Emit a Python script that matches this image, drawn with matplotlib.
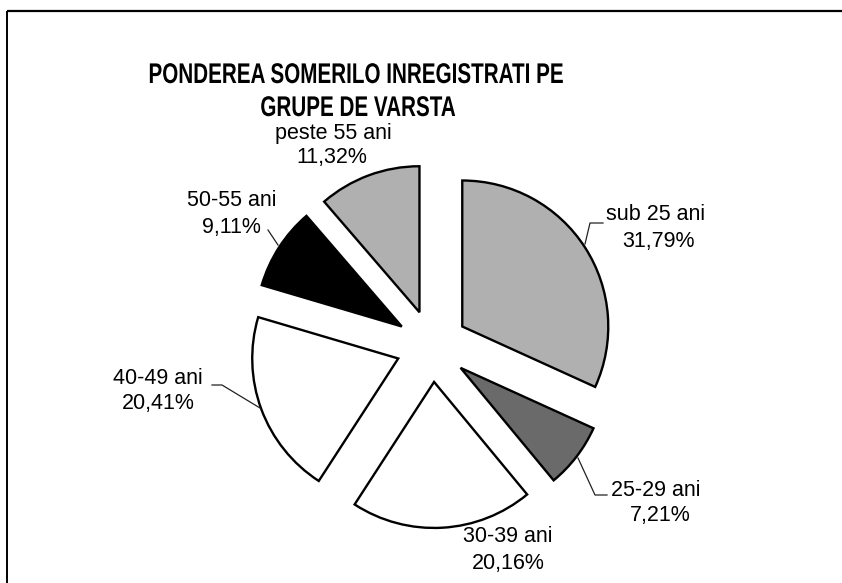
import matplotlib
matplotlib.use('Agg')
import matplotlib.pyplot as plt
from matplotlib.patheffects import AbstractPathEffect
from matplotlib.transforms import Affine2D

# ---- data ----
categories = ['sub 25 ani', '25-29 ani', '30-39 ani', '40-49 ani', '50-55 ani', 'peste 55 ani']
values = [31.79, 7.21, 20.16, 20.41, 9.11, 11.32]
colors = ['#b0b0b0', '#6a6a6a', '#ffffff', '#ffffff', '#000000', '#b0b0b0']
title_lines = ['PONDEREA SOMERILO INREGISTRATI PE', 'GRUPE DE VARSTA']

# ---- layout (pixel space of the 842x583 image) ----
W, H = 842, 583
R = 146.0              # pie radius in px
CX, CY = 432.0, 346.0  # pie centre in px (image coords)
EXPLODE = 36.0         # explode offset in px

# label centres (name line, percent line) in image px
label_pos = {
    'sub 25 ani': ((656, 215), (658, 242)),
    '25-29 ani': ((656, 490), (660, 516)),
    '30-39 ani': ((508, 537), (508, 564)),
    '40-49 ani': ((158, 378), (158, 404)),
    '50-55 ani': ((232, 200), (231, 227)),
    'peste 55 ani': ((333, 133), (332, 158)),
}
leaders = {
    'sub 25 ani': [(585, 244), (590, 223), (603, 223)],
    '25-29 ani': [(578, 458), (595, 495), (607, 495)],
    '40-49 ani': [(260, 408), (222, 385), (212, 385)],
    '50-55 ani': [(278, 245), (268, 230)],
}


def px(x, y):
    return (x - CX) / R, (CY - y) / R


class HorizontalSqueeze(AbstractPathEffect):
    """Narrow a text horizontally about its anchor (condensed-font look)."""

    def __init__(self, sx, text_artist):
        super().__init__()
        self.sx = sx
        self.text_artist = text_artist

    def draw_path(self, renderer, gc, tpath, affine, rgbFace=None):
        t = self.text_artist
        cx = t.get_transform().transform(t.get_position())[0]
        squeeze = Affine2D().translate(-cx, 0).scale(self.sx, 1.0).translate(cx, 0)
        renderer.draw_path(gc, tpath, affine + squeeze, rgbFace)


fig = plt.figure(figsize=(W / 100, H / 100), dpi=100)
fig.patch.set_facecolor('white')
ax = fig.add_axes([0, 0, 1, 1])

ax.pie(values, colors=colors, startangle=90, counterclock=False, radius=1.0,
       explode=[EXPLODE / R] * len(values),
       wedgeprops=dict(edgecolor='black', linewidth=1.7, joinstyle='miter'))

ax.set_xlim(-CX / R, (W - CX) / R)
ax.set_ylim((CY - H) / R, CY / R)
ax.set_aspect('equal')
ax.axis('off')

# frame lines (left and top borders of the chart area)
x0, y0 = px(7, 11)
x1, _ = px(842, 11)
_, yb = px(7, 583)
ax.plot([x0, x1], [y0, y0], color='black', lw=1.6, solid_capstyle='butt', clip_on=False)
ax.plot([x0, x0], [y0, yb], color='black', lw=1.4, solid_capstyle='butt', clip_on=False)

# title (condensed bold look)
title_font = dict(family=['Liberation Sans', 'DejaVu Sans'],
                  weight='bold', size=20.5, color='black', ha='center', va='center')
for line, (lx, ly) in zip(title_lines, [(356, 76), (358, 109)]):
    t = ax.text(*px(lx, ly), line, **title_font)
    t.set_path_effects([HorizontalSqueeze(0.725, t)])

# labels
lab_font = dict(family=['Liberation Sans', 'DejaVu Sans'], size=15.5, color='black',
                ha='center', va='center')
for cat, val in zip(categories, values):
    (nx, ny), (vx, vy) = label_pos[cat]
    ax.text(*px(nx, ny), cat, **lab_font)
    ax.text(*px(vx, vy), f"{val:.2f}%".replace('.', ','), **lab_font)

for cat, pts in leaders.items():
    xs, ys = zip(*[px(x, y) for x, y in pts])
    ax.plot(xs, ys, color='#222222', lw=0.9)

fig.savefig('out.png', dpi=100, facecolor='white')
